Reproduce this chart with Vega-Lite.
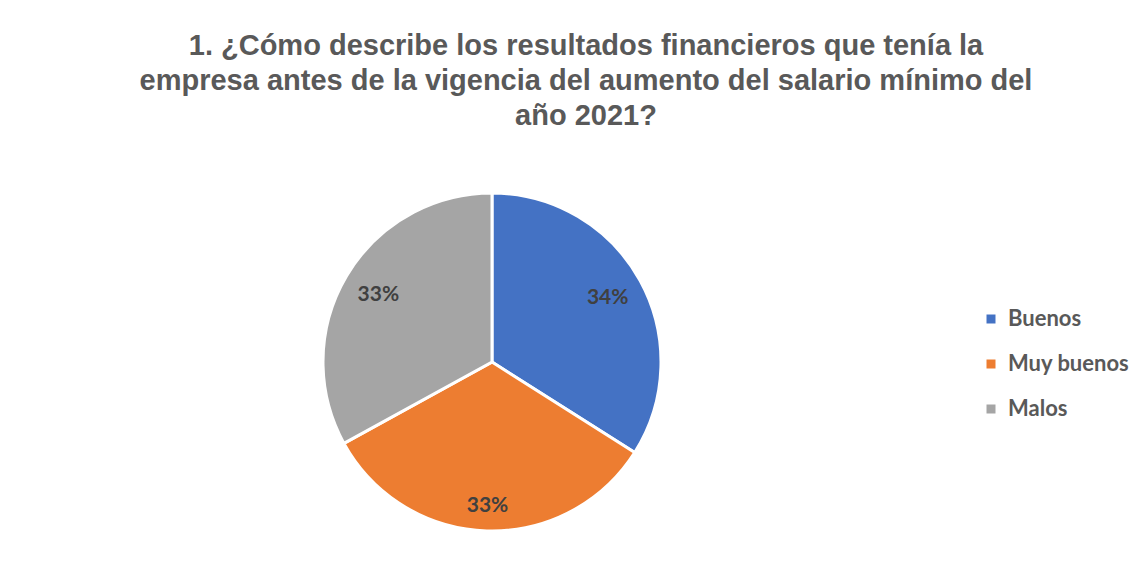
{
  "$schema": "https://vega.github.io/schema/vega-lite/v6.json",
  "autosize": {"type": "none"},
  "width": 338,
  "height": 338,
  "padding": {"left": 323, "top": 193, "right": 487, "bottom": 53},
  "background": "white",
  "config": {"view": {"stroke": null}},
  "title": {
    "text": ["1. ¿Cómo describe los resultados financieros que tenía la", "empresa antes de la vigencia del aumento del salario mínimo del", "año 2021?"],
    "font": "Liberation Sans",
    "fontSize": 29,
    "fontWeight": "bold",
    "color": "#595959",
    "lineHeight": 35,
    "anchor": "middle",
    "dx": 94,
    "offset": 56
  },
  "data": {
    "values": [
      {"categoria": "Buenos", "pct": 0.34, "orden": 1},
      {"categoria": "Muy buenos", "pct": 0.33, "orden": 2},
      {"categoria": "Malos", "pct": 0.33, "orden": 3}
    ]
  },
  "encoding": {
    "theta": {"field": "pct", "type": "quantitative", "stack": true},
    "order": {"field": "orden", "type": "quantitative"},
    "color": {
      "field": "categoria",
      "type": "nominal",
      "scale": {"domain": ["Buenos", "Muy buenos", "Malos"], "range": ["#4472C4", "#ED7D31", "#A5A5A5"]},
      "legend": {
        "title": null,
        "orient": "none",
        "legendX": 657,
        "legendY": 115,
        "symbolType": "square",
        "symbolSize": 81,
        "symbolStrokeWidth": 0,
        "labelFont": "Lato",
        "labelFontSize": 22,
        "labelFontWeight": "bold",
        "labelColor": "#595959",
        "labelOffset": 6,
        "rowPadding": 23
      }
    }
  },
  "layer": [
    {"mark": {"type": "arc", "stroke": "white", "strokeWidth": 3}},
    {
      "mark": {"type": "text", "radius": {"expr": "datum.categoria == 'Muy buenos' ? 144 : 132"}, "font": "Lato", "fontSize": 21, "fontWeight": "bold", "fill": "#404040"},
      "encoding": {
        "text": {"field": "pct", "type": "quantitative", "format": ".0%"},
        "color": {"value": "#404040"}
      }
    }
  ]
}
